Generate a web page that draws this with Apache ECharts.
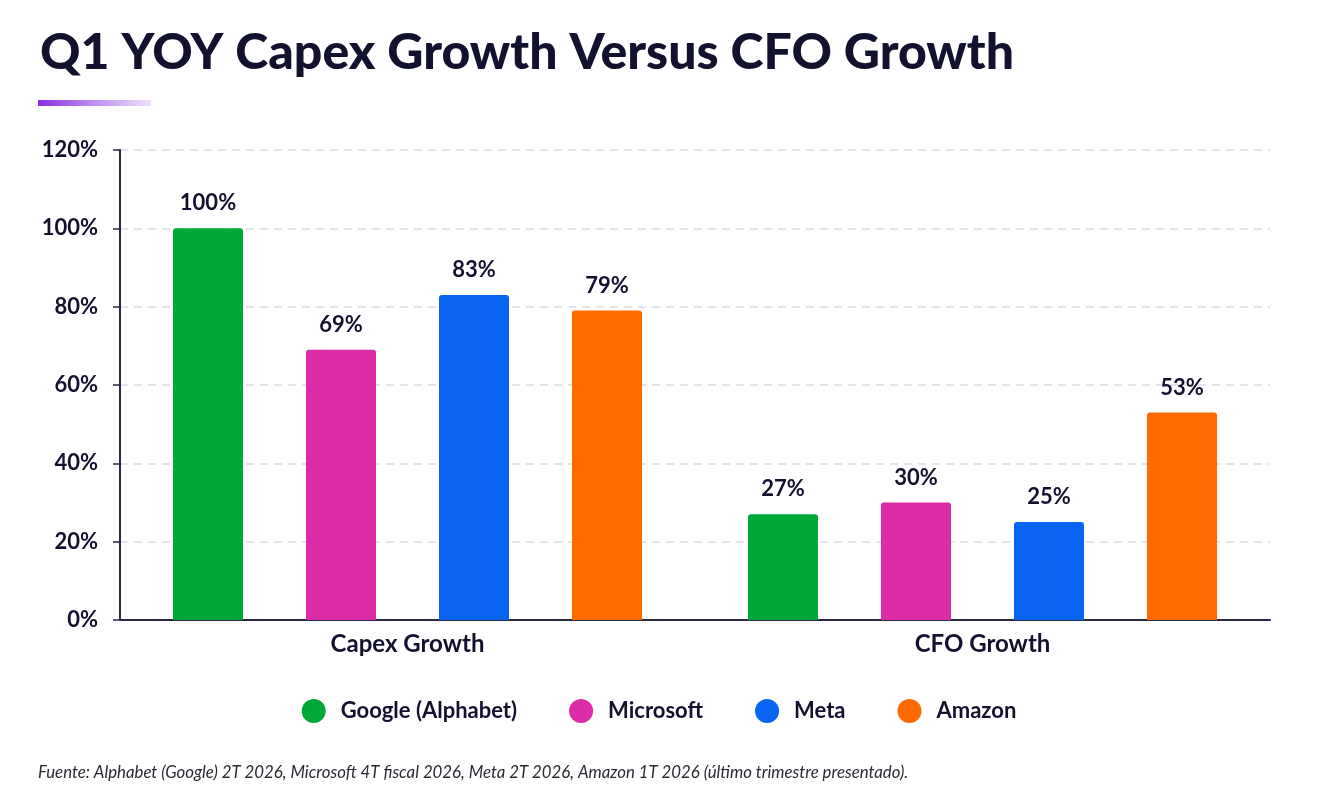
<!DOCTYPE html>
<html>
<head>
<meta charset="utf-8">
<script src="https://cdn.jsdelivr.net/npm/echarts@6/dist/echarts.min.js"></script>
<style>
  html, body { margin: 0; padding: 0; background: #ffffff; }
  #main { width: 1318px; height: 806px; }
</style>
</head>
<body>
<div id="main"></div>
<script>
// datos
const categories = ['Capex Growth', 'CFO Growth'];
const companies = ['Google (Alphabet)', 'Microsoft', 'Meta', 'Amazon'];
const googleValues = [100, 27];
const microsoftValues = [69, 30];
const metaValues = [83, 25];
const amazonValues = [79, 53];
const colors = ['#00a83a', '#dc2ba6', '#0a64f2', '#ff6a00'];

const FONT = 'Lato';
const INK = '#12122e';

const chart = echarts.init(document.getElementById('main'), null, { renderer: 'canvas' });

const seriesValues = [googleValues, microsoftValues, metaValues, amazonValues];
const series = companies.map((name, i) => ({
  name: name,
  type: 'bar',
  data: seriesValues[i],
  barWidth: 70,
  barGap: '90%',
  itemStyle: { color: colors[i], borderRadius: [3, 3, 0, 0] },
  label: {
    show: true,
    position: 'top',
    distance: 14,
    formatter: '{c}%',
    color: INK,
    fontFamily: FONT,
    fontWeight: 'bold',
    fontSize: 22
  }
}));

chart.setOption({
  animation: false,
  backgroundColor: '#ffffff',
  title: {
    text: 'Q1 YOY Capex Growth Versus CFO Growth',
    left: 35,
    top: 23,
    textStyle: { color: INK, fontFamily: FONT, fontWeight: 900, fontSize: 50 }
  },
  graphic: [
    {
      type: 'rect',
      left: 38,
      top: 100,
      shape: { width: 113, height: 6 },
      style: {
        fill: new echarts.graphic.LinearGradient(0, 0, 1, 0, [
          { offset: 0, color: '#8a2be2' },
          { offset: 1, color: 'rgba(160, 90, 230, 0.2)' }
        ])
      }
    },
    {
      type: 'text',
      left: 38,
      top: 764,
      style: {
        text: 'Fuente: Alphabet (Google) 2T 2026, Microsoft 4T fiscal 2026, Meta 2T 2026, Amazon 1T 2026 (último trimestre presentado).',
        fill: '#2a2a35',
        font: 'italic 16.8px Lato'
      }
    }
  ],
  legend: {
    bottom: 78,
    left: 'center',
    icon: 'circle',
    itemWidth: 24,
    itemHeight: 24,
    itemGap: 52,
    textStyle: { color: INK, fontFamily: FONT, fontWeight: 'bold', fontSize: 22, padding: [0, 0, 0, 10] },
    data: companies
  },
  grid: { left: 120, right: 48, top: 150, bottom: 186 },
  xAxis: {
    type: 'category',
    data: categories,
    axisLine: { lineStyle: { color: '#2a2a44', width: 2 } },
    axisTick: { show: false },
    axisLabel: { color: INK, fontFamily: FONT, fontWeight: 'bold', fontSize: 24, margin: 12 }
  },
  yAxis: {
    type: 'value',
    min: 0,
    max: 120,
    interval: 20,
    axisLine: { show: true, lineStyle: { color: '#2a2a44', width: 2 } },
    axisTick: { show: true, length: 7, lineStyle: { color: '#2a2a44', width: 1.5 } },
    axisLabel: { formatter: '{value}%', color: INK, fontFamily: FONT, fontWeight: 'bold', fontSize: 22, margin: 22 },
    splitLine: { lineStyle: { color: '#dcdce8', type: [8, 6], width: 1.5 } }
  },
  series: series
});
</script>
</body>
</html>
